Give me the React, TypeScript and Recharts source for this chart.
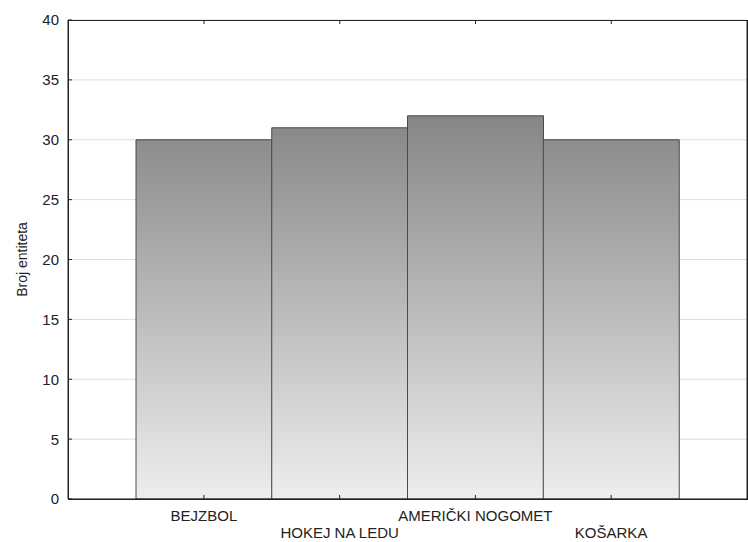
import { Bar, BarChart, CartesianGrid, XAxis, YAxis } from "recharts";

const categories = ["BEJZBOL", "HOKEJ NA LEDU", "AMERIČKI NOGOMET", "KOŠARKA"];
const counts = [30, 31, 32, 30];
const yTicks = [0, 5, 10, 15, 20, 25, 30, 35, 40];

const data = categories.map((name, i) => ({ name, count: counts[i] }));

const FONT = "'Liberation Sans', Arial, sans-serif";

// oznake kategorija: naizmjenično u dva reda, kratka crtica prema unutra
function CategoryTick({ x, y, payload, index }: any) {
  return (
    <g>
      <line x1={x} y1={y} x2={x} y2={y - 4} stroke="#222" />
      <text
        x={x}
        y={y + (index % 2 === 0 ? 22 : 39)}
        textAnchor="middle"
        fontSize={15}
        fontFamily={FONT}
        fill="#222"
      >
        {payload.value}
      </text>
    </g>
  );
}

function ValueTick({ x, y, payload }: any) {
  return (
    <g>
      <line x1={x} y1={y} x2={x + 4} y2={y} stroke="#222" />
      <text
        x={x - 9}
        y={y}
        dy="0.36em"
        textAnchor="end"
        fontSize={15}
        fontFamily={FONT}
        fill="#222"
      >
        {payload.value}
      </text>
    </g>
  );
}

function RightTick({ x, y }: any) {
  return <line x1={x} y1={y} x2={x - 4} y2={y} stroke="#222" />;
}

// pozadina stupca pokriva cijelu visinu: koristi se samo za crticu na gornjem rubu
function TopTickBackground({ x, y, width }: any) {
  const cx = x + width / 2;
  return <line x1={cx} y1={y} x2={cx} y2={y + 4} stroke="#222" />;
}

export default function App() {
  return (
    <div style={{ position: "relative", width: 748, height: 542, background: "#ffffff" }}>
      <style>{`body{margin:0}`}</style>
      <BarChart
        width={748}
        height={542}
        data={data}
        margin={{ top: 20, right: 0, bottom: 0, left: 0 }}
        barCategoryGap={0}
      >
        <defs>
          <linearGradient id="barGradient" x1="0" y1="116" x2="0" y2="499" gradientUnits="userSpaceOnUse">
            <stop offset="0%" stopColor="#868686" />
            <stop offset="100%" stopColor="#eeeeee" />
          </linearGradient>
        </defs>
        <CartesianGrid stroke="#dddddd" vertical={false} />
        <XAxis
          dataKey="name"
          interval={0}
          padding={{ left: 68, right: 68 }}
          height={43}
          tickSize={0}
          tickMargin={0}
          axisLine={{ stroke: "#222" }}
          tickLine={false}
          tick={<CategoryTick />}
        />
        <YAxis
          domain={[0, 40]}
          ticks={yTicks}
          width={68}
          tickSize={0}
          tickMargin={0}
          axisLine={{ stroke: "#222" }}
          tickLine={false}
          tick={<ValueTick />}
          label={{
            value: "Broj entiteta",
            angle: -90,
            position: "insideLeft",
            offset: 22,
            style: { fontSize: 14, fontFamily: FONT, fill: "#222", textAnchor: "middle" },
          }}
        />
        <YAxis
          yAxisId="right"
          orientation="right"
          domain={[0, 40]}
          ticks={yTicks}
          width={1}
          tickSize={0}
          tickMargin={0}
          axisLine={{ stroke: "#222" }}
          tickLine={false}
          tick={<RightTick />}
        />
        <Bar
          dataKey="count"
          fill="url(#barGradient)"
          stroke="#4a4a4a"
          strokeWidth={1}
          background={<TopTickBackground />}
          isAnimationActive={false}
        />
      </BarChart>
      {/* okvir područja crtanja */}
      <div
        style={{
          position: "absolute",
          left: 68,
          top: 20,
          width: 680,
          height: 480,
          boxSizing: "border-box",
          border: "1px solid #222",
          pointerEvents: "none",
        }}
      />
    </div>
  );
}
